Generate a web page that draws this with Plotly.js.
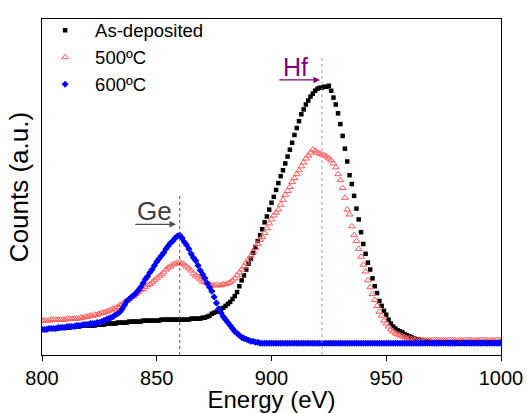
<!DOCTYPE html>
<html>
<head>
<meta charset="utf-8">
<script src="https://cdn.plot.ly/plotly-3.0.1.min.js"></script>
<style>html,body{margin:0;padding:0;background:#fff;}#chart{width:527px;height:413px;}</style>
</head>
<body>
<div id="chart"></div>
<script>
const energy = [
800,801,802,803,804,805,806,807,808,809,
810,811,812,813,814,815,816,817,818,819,
820,821,822,823,824,825,826,827,828,829,
830,831,832,833,834,835,836,837,838,839,
840,841,842,843,844,845,846,847,848,849,
850,851,852,853,854,855,856,857,858,859,
860,861,862,863,864,865,866,867,868,869,
870,871,872,873,874,875,876,877,878,879,
880,881,882,883,884,885,886,887,888,889,
890,891,892,893,894,895,896,897,898,899,
900,901,902,903,904,905,906,907,908,909,
910,911,912,913,914,915,916,917,918,919,
920,921,922,923,924,925,926,927,928,929,
930,931,932,933,934,935,936,937,938,939,
940,941,942,943,944,945,946,947,948,949,
950,951,952,953,954,955,956,957,958,959,
960,961,962,963,964,965,966,967,968,969,
970,971,972,973,974,975,976,977,978,979,
980,981,982,983,984,985,986,987,988,989,
990,991,992,993,994,995,996,997,998,999,
1000];

const asDeposited = [
26,26,26,27,27,27,27,27,28,28,
28,28,28,29,29,29,29,30,30,30,
30,30,30,30,31,31,31,31,32,32,
32,32,32,33,33,33,33,33,34,34,
34,34,34,34,35,35,35,35,35,35,
35,35,36,36,36,36,36,36,36,36,
36,36,36,36,36,37,37,37,37,37,
38,38,39,40,42,43,44,45,47,48,
50,52,54,57,60,64,70,76,81,87,
93,98,104,110,116,122,128,135,141,148,
155,161,168,175,182,188,195,202,209,216,
224,231,238,245,250,255,259,263,266,269,
271,272,272,273,273,274,269,262,255,246,
235,223,210,197,183,174,162,149,138,125,
113,103,94,87,78,70,63,55,50,45,
41,36,32,29,27,25,24,23,21,20,
19,18,17,16,16,15,15,14,14,14,
13,13,13,13,13,13,13,13,13,13,
13,13,13,13,13,13,13,13,13,13,
13,13,13,13,13,13,13,13,13,13,
13];

const annealed500 = [
35,35,35,35,36,36,36,36,36,36,
36,37,37,37,37,37,37,38,38,39,
39,40,40,41,41,42,43,43,44,45,
46,47,48,49,51,52,54,55,57,59,
60,62,64,66,67,69,71,72,74,76,
78,80,82,84,87,89,90,92,93,94,
94,93,92,90,88,86,83,81,79,77,
75,74,73,72,71,71,71,71,71,72,
72,73,74,76,78,81,84,87,90,94,
97,101,105,109,113,117,120,124,129,134,
138,142,145,148,153,158,163,167,171,176,
180,184,188,192,196,200,203,206,209,208,
206,205,204,203,202,200,198,195,191,184,
178,170,160,148,143,131,122,116,108,100,
92,85,76,69,62,56,50,44,40,35,
32,29,26,24,22,21,20,19,18,17,
17,16,16,16,15,15,15,15,15,15,
15,15,15,15,15,15,15,15,15,15,
15,15,15,15,15,15,15,15,15,15,
15,15,15,15,15,15,15,15,15,15,
15];

const annealed600 = [
26,26,26,27,27,27,27,28,28,28,
28,29,29,29,29,30,30,30,31,31,
31,32,32,32,33,33,34,35,36,37,
38,39,41,42,44,47,51,55,57,59,
61,63,66,69,73,77,80,84,87,91,
95,98,101,104,108,111,114,116,119,121,
122,119,115,112,108,103,99,96,91,86,
82,78,73,69,65,59,53,47,43,39,
36,33,30,27,24,22,20,18,17,16,
15,14,14,13,13,12,12,12,12,12,
12,12,12,12,12,12,12,12,12,12,
12,12,12,12,12,12,12,12,12,12,
12,12,12,12,12,12,12,12,12,12,
12,12,12,12,12,12,12,12,12,12,
12,12,12,12,12,12,12,12,12,12,
12,12,12,12,12,12,12,12,12,12,
12,12,12,12,12,12,12,12,12,12,
12,12,12,12,12,12,12,12,12,12,
12,12,12,12,12,12,12,12,12,12,
12,12,12,12,12,12,12,12,12,12,
12];

const seriesNames = ['As-deposited', '500ºC', '600ºC'];
const xTicks = [800, 850, 900, 950, 1000];
const geLine = {energy: 860, top: 162};
const hfLine = {energy: 922, top: 303};
const geArrow = {from: 840, to: 858.4, level: 133};
const hfArrow = {from: 902.8, to: 921.1, level: 280};

const FONT = 'Arial, "Liberation Sans", sans-serif';

const traces = [
  {x: energy, y: asDeposited, name: seriesNames[0], type: 'scatter', mode: 'markers',
   marker: {symbol: 'square', size: 4.5, color: '#000000'}},
  {x: energy, y: annealed500, name: seriesNames[1], type: 'scatter', mode: 'markers',
   marker: {symbol: 'triangle-up-open', size: 6, color: '#ff5a5a', line: {width: 1}}},
  {x: energy, y: annealed600, name: seriesNames[2], type: 'scatter', mode: 'markers',
   marker: {symbol: 'diamond', size: 5.5, color: '#0000ff'}}
];

const layout = {
  width: 527, height: 413,
  margin: {l: 42, r: 26, t: 13, b: 58},
  paper_bgcolor: '#ffffff', plot_bgcolor: '#ffffff',
  font: {family: FONT, color: '#000000'},
  showlegend: true,
  legend: {x: -0.015, y: 1.022, xanchor: 'left', yanchor: 'top', font: {size: 18.5, family: FONT},
           itemwidth: 50, bgcolor: 'rgba(0,0,0,0)', borderwidth: 0, tracegroupgap: 0},
  xaxis: {range: [800, 1000], tickvals: xTicks, ticks: 'outside', ticklen: 5, tickwidth: 1,
          tickcolor: '#000', showline: true, linecolor: '#000', linewidth: 1.2, mirror: true,
          showgrid: false, zeroline: false, tickfont: {size: 20, family: FONT},
          title: {text: 'Energy (eV)', font: {size: 24, family: FONT}, standoff: 6}},
  yaxis: {range: [0, 342], showticklabels: false, ticks: '', showline: true, linecolor: '#000',
          linewidth: 1.2, mirror: true, showgrid: false, zeroline: false,
          title: {text: 'Counts (a.u.)', font: {size: 26, family: FONT}, standoff: 4}},
  shapes: [
    {type: 'line', xref: 'x', yref: 'y', x0: geLine.energy, x1: geLine.energy, y0: 0, y1: geLine.top,
     line: {color: '#555555', width: 1, dash: 'dot'}},
    {type: 'line', xref: 'x', yref: 'y', x0: hfLine.energy, x1: hfLine.energy, y0: 0, y1: hfLine.top,
     line: {color: '#c080c8', width: 1, dash: 'dot'}}
  ],
  annotations: [
    {x: 848.8, y: 147, xref: 'x', yref: 'y', text: 'Ge', showarrow: false,
     font: {size: 26, color: '#404040', family: FONT}, xanchor: 'center', yanchor: 'middle'},
    {x: geArrow.to, y: geArrow.level, ax: geArrow.from, ay: geArrow.level, axref: 'x', ayref: 'y',
     xref: 'x', yref: 'y', text: '', showarrow: true, arrowhead: 2, arrowsize: 1, arrowwidth: 1.3,
     arrowcolor: '#505050'},
    {x: 910.6, y: 293, xref: 'x', yref: 'y', text: 'Hf', showarrow: false,
     font: {size: 25, color: '#800080', family: FONT}, xanchor: 'center', yanchor: 'middle'},
    {x: hfArrow.to, y: hfArrow.level, ax: hfArrow.from, ay: hfArrow.level, axref: 'x', ayref: 'y',
     xref: 'x', yref: 'y', text: '', showarrow: true, arrowhead: 2, arrowsize: 1, arrowwidth: 1.3,
     arrowcolor: '#800080'}
  ]
};

Plotly.newPlot('chart', traces, layout, {displayModeBar: false, staticPlot: true});
</script>
</body>
</html>
